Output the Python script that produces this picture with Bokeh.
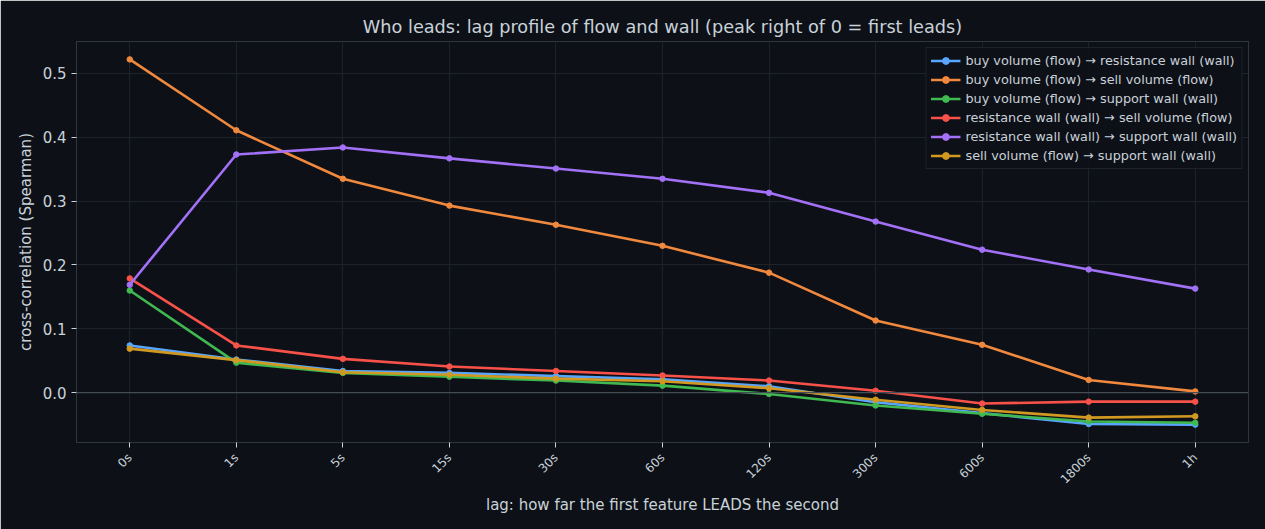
from bokeh.plotting import figure
from bokeh.models import (ColumnDataSource, Legend, LegendItem, FixedTicker,
                          Span, NumeralTickFormatter, Range1d, FactorRange)
from bokeh.embed import file_html
from bokeh.resources import INLINE

# lag buckets on the x axis
lags = ["0s", "1s", "5s", "15s", "30s", "60s", "120s", "300s", "600s", "1800s", "1h"]

# Spearman cross-correlation per lag for each feature pair
buy_to_resistance = [0.074, 0.052, 0.034, 0.031, 0.026, 0.021, 0.010, -0.015, -0.032, -0.049, -0.050]
buy_to_sell = [0.522, 0.411, 0.335, 0.293, 0.263, 0.230, 0.188, 0.113, 0.075, 0.020, 0.002]
buy_to_support = [0.160, 0.047, 0.031, 0.025, 0.019, 0.011, -0.002, -0.020, -0.033, -0.045, -0.047]
resistance_to_sell = [0.179, 0.074, 0.053, 0.041, 0.034, 0.027, 0.019, 0.003, -0.017, -0.014, -0.014]
resistance_to_support = [0.169, 0.373, 0.384, 0.367, 0.351, 0.335, 0.313, 0.268, 0.224, 0.193, 0.163]
sell_to_support = [0.069, 0.051, 0.032, 0.028, 0.022, 0.018, 0.007, -0.011, -0.027, -0.039, -0.037]

series = [
    ("buy volume (flow) \u2192 resistance wall (wall)", buy_to_resistance, "#58a6ff"),
    ("buy volume (flow) \u2192 sell volume (flow)", buy_to_sell, "#f0883e"),
    ("buy volume (flow) \u2192 support wall (wall)", buy_to_support, "#3fb950"),
    ("resistance wall (wall) \u2192 sell volume (flow)", resistance_to_sell, "#f85149"),
    ("resistance wall (wall) \u2192 support wall (wall)", resistance_to_support, "#a371f7"),
    ("sell volume (flow) \u2192 support wall (wall)", sell_to_support, "#d29922"),
]

BG = "#0d1117"
TXT = "#c9d1d9"
EDGE = "#30363d"
FONT = "DejaVu Sans"

p = figure(
    width=1265, height=529,
    x_range=FactorRange(*lags, range_padding=0, factor_padding=0),
    y_range=Range1d(-0.078, 0.550),
    output_backend="svg", toolbar_location=None,
    background_fill_color=BG, border_fill_color=BG,
    min_border_left=76, min_border_right=17, min_border_top=41, min_border_bottom=87,
    title="Who leads: lag profile of flow and wall (peak right of 0 = first leads)",
)

p.title.align = "center"
p.title.text_color = TXT
p.title.text_font = FONT
p.title.text_font_size = "17.7px"
p.title.text_font_style = "normal"

p.outline_line_color = EDGE
p.outline_line_width = 1

p.xgrid.grid_line_color = "#1d222a"
p.ygrid.grid_line_color = "#1d222a"
p.ygrid.ticker = FixedTicker(ticks=[0.0, 0.1, 0.2, 0.3, 0.4, 0.5])

p.yaxis.ticker = FixedTicker(ticks=[0.0, 0.1, 0.2, 0.3, 0.4, 0.5])
p.yaxis.formatter = NumeralTickFormatter(format="0.0")

for ax in (p.xaxis[0], p.yaxis[0]):
    ax.axis_line_color = EDGE
    ax.major_tick_line_color = TXT
    ax.minor_tick_line_color = None
    ax.major_tick_in = 0
    ax.major_tick_out = 5
    ax.major_label_text_color = TXT
    ax.major_label_text_font = FONT
    ax.axis_label_text_color = TXT
    ax.axis_label_text_font = FONT
    ax.axis_label_text_font_size = "15px"
    ax.axis_label_text_font_style = "normal"

p.yaxis.major_label_text_font_size = "15px"
p.yaxis.axis_label = "cross-correlation (Spearman)"
p.xaxis.major_label_text_font_size = "12px"
p.xaxis.major_label_orientation = 0.785
p.xaxis.major_label_text_align = "center"
p.xaxis.major_label_standoff = 8
p.xaxis.axis_label_standoff = 2
p.xaxis.axis_label = "lag: how far the first feature LEADS the second"

zero = Span(location=0, dimension="width", line_color="#444c56", line_width=1.2)
p.add_layout(zero)

items = []
for name, vals, color in series:
    src = ColumnDataSource(data=dict(lag=lags, r=vals))
    ln = p.line("lag", "r", source=src, line_color=color, line_width=2.6)
    dots = p.scatter("lag", "r", source=src, size=5.5, fill_color=color, line_color=color)
    items.append(LegendItem(label=name, renderers=[ln, dots]))

legend = Legend(
    items=items, location="top_right",
    background_fill_color=BG, background_fill_alpha=0.9,
    border_line_color=EDGE, border_line_width=1,
    label_text_color=TXT, label_text_font=FONT, label_text_font_size="12.8px",
    label_height=17, glyph_height=17, glyph_width=30, spacing=2,
    padding=4, margin=6,
)
p.add_layout(legend)

open("out.html", "w").write(file_html(p, INLINE))
